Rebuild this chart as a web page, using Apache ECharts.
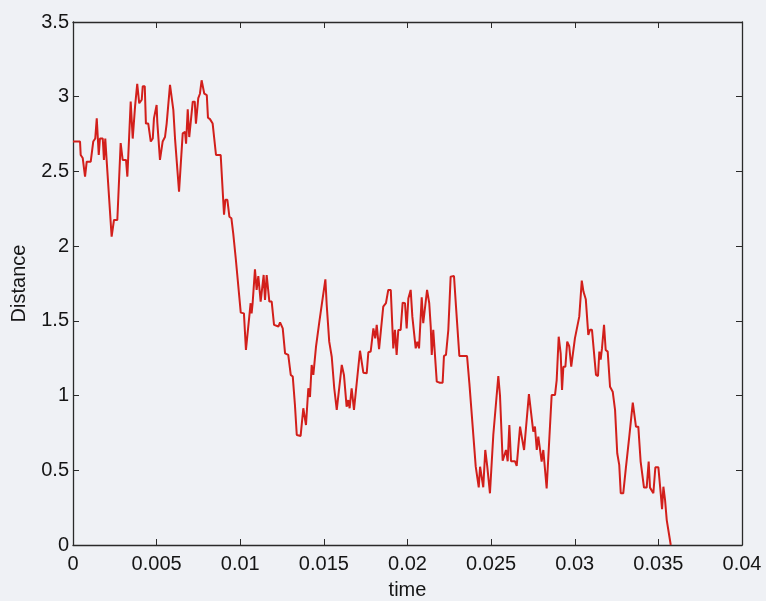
<!DOCTYPE html>
<html>
<head>
<meta charset="utf-8">
<script src="https://cdn.jsdelivr.net/npm/echarts@6/dist/echarts.min.js"></script>
<style>
  html, body { margin: 0; padding: 0; background: #eff1f5; }
  #chart { width: 766px; height: 601px; }
</style>
</head>
<body>
<div id="chart"></div>
<script>
// Sample times (s) of the random walk
const times = [
  0, 0.00042, 0.00046, 0.00058, 0.00072, 0.00082, 0.00106, 0.00121, 0.00133, 0.00142,
  0.00154, 0.00161, 0.00178, 0.00185, 0.00193, 0.00201, 0.00231, 0.00245, 0.00265, 0.00285,
  0.00297, 0.00317, 0.00325, 0.00345, 0.00357, 0.00371, 0.00384, 0.00396, 0.00411, 0.00417,
  0.00429, 0.00436, 0.0045, 0.00465, 0.00477, 0.00484, 0.005, 0.00504, 0.0052, 0.00536,
  0.0055, 0.0056, 0.0058, 0.00588, 0.006, 0.0061, 0.00634, 0.00656, 0.0067, 0.00676,
  0.00686, 0.00695, 0.00706, 0.00716, 0.00728, 0.00735, 0.00749, 0.00759, 0.00769, 0.00779,
  0.00785, 0.008, 0.00807, 0.00819, 0.00835, 0.00855, 0.00883, 0.00903, 0.00911, 0.00923,
  0.00935, 0.00947, 0.00958, 0.00973, 0.00979, 0.01003, 0.01022, 0.01034, 0.01045, 0.01062,
  0.01068, 0.01074, 0.01088, 0.01098, 0.01108, 0.01122, 0.01132, 0.0114, 0.01148, 0.01158,
  0.01174, 0.01188, 0.01202, 0.01228, 0.01238, 0.01254, 0.01268, 0.01287, 0.01302, 0.01314,
  0.01327, 0.01338, 0.01361, 0.01377, 0.01393, 0.01407, 0.01417, 0.01427, 0.01437, 0.01453,
  0.01473, 0.01487, 0.01497, 0.01509, 0.01517, 0.01532, 0.01547, 0.01562, 0.01577, 0.01596,
  0.01607, 0.0162, 0.01628, 0.01636, 0.01646, 0.01654, 0.01666, 0.0168, 0.0169, 0.01716,
  0.01726, 0.01736, 0.01756, 0.01766, 0.0178, 0.01796, 0.01807, 0.01816, 0.0183, 0.0184,
  0.01855, 0.01871, 0.01885, 0.019, 0.01915, 0.01925, 0.01935, 0.01945, 0.01959, 0.01971,
  0.01985, 0.01995, 0.02005, 0.02019, 0.02029, 0.02039, 0.02049, 0.02059, 0.02069, 0.02085,
  0.02094, 0.02105, 0.02117, 0.0213, 0.02139, 0.02145, 0.02154, 0.02175, 0.02194, 0.0221,
  0.02218, 0.0223, 0.02244, 0.02258, 0.02278, 0.0229, 0.0231, 0.02356, 0.0237, 0.02408,
  0.02418, 0.02426, 0.02434, 0.02445, 0.02453, 0.02465, 0.02477, 0.02493, 0.02513, 0.02523,
  0.02543, 0.02553, 0.02569, 0.02579, 0.02589, 0.02599, 0.02609, 0.02619, 0.02643, 0.02653,
  0.02673, 0.02683, 0.02697, 0.02707, 0.02726, 0.02737, 0.02752, 0.02762, 0.02773, 0.02782,
  0.02792, 0.02802, 0.02812, 0.02822, 0.02832, 0.02862, 0.02882, 0.02892, 0.02904, 0.02916,
  0.02924, 0.02932, 0.02944, 0.02955, 0.02967, 0.02979, 0.0299, 0.03001, 0.03012, 0.03027,
  0.03042, 0.03052, 0.03066, 0.03081, 0.03091, 0.03103, 0.03127, 0.03139, 0.03147, 0.03155,
  0.03163, 0.03175, 0.03185, 0.03197, 0.03211, 0.03227, 0.03241, 0.03254, 0.03266, 0.03275,
  0.0329, 0.03306, 0.03317, 0.03326, 0.03336, 0.03347, 0.03356, 0.03366, 0.0338, 0.03394,
  0.03402, 0.03414, 0.0343, 0.03442, 0.0345, 0.0346, 0.0347, 0.03482, 0.035, 0.03514,
  0.03522, 0.0353, 0.0354, 0.0355, 0.03559, 0.03574
];

// Distance at each sample time
const distance = [
  2.70, 2.70, 2.61, 2.59, 2.465, 2.565, 2.565, 2.70, 2.72, 2.855,
  2.61, 2.72, 2.72, 2.577, 2.72, 2.577, 2.063, 2.175, 2.175, 2.69,
  2.577, 2.577, 2.465, 2.967, 2.72, 2.934, 3.086, 2.956, 2.98, 3.07,
  3.07, 2.82, 2.82, 2.70, 2.72, 2.855, 2.945, 2.83, 2.577, 2.70,
  2.73, 2.82, 3.08, 3.07, 2.91, 2.72, 2.365, 2.755, 2.765, 2.685,
  2.916, 2.73, 2.72, 2.967, 2.967, 2.82, 2.99, 3.02, 3.11, 3.11,
  3.02, 3.01, 2.86, 2.85, 2.82, 2.61, 2.61, 2.21, 2.31, 2.31,
  2.197, 2.187, 2.086, 1.919, 1.912, 1.555, 1.55, 1.305, 1.305, 1.618,
  1.55, 1.618, 1.845, 1.707, 1.80, 1.629, 1.629, 1.807, 1.64, 1.807,
  1.629, 1.629, 1.473, 1.462, 1.49, 1.45, 1.283, 1.272, 1.138, 1.127,
  0.937, 0.736, 0.73, 0.915, 0.803, 1.049, 0.99, 1.205, 1.138, 1.327,
  1.495, 1.606, 1.616, 1.778, 1.606, 1.361, 1.26, 1.049, 0.904, 1.093,
  1.205, 1.138, 1.138, 0.926, 0.97, 0.915, 1.049, 0.904, 0.904, 1.30,
  1.30, 1.153, 1.149, 1.29, 1.295, 1.45, 1.383, 1.473, 1.31, 1.31,
  1.595, 1.618, 1.707, 1.707, 1.316, 1.44, 1.272, 1.439, 1.439, 1.622,
  1.618, 1.45, 1.65, 1.707, 1.528, 1.528, 1.316, 1.36, 1.316, 1.658,
  1.484, 1.484, 1.707, 1.618, 1.46, 1.272, 1.44, 1.093, 1.086, 1.086,
  1.265, 1.272, 1.439, 1.796, 1.80, 1.595, 1.265, 1.265, 1.082, 0.524,
  0.524, 0.386, 0.524, 0.524, 0.386, 0.636, 0.524, 0.346, 0.736, 0.736,
  1.131, 1.0, 0.564, 0.564, 0.636, 0.56, 0.803, 0.56, 0.56, 0.529,
  0.792, 0.725, 0.636, 0.636, 1.01, 1.01, 0.758, 0.792, 0.636, 0.725,
  0.725, 0.558, 0.636, 0.636, 0.379, 1.004, 1.004, 1.104, 1.394, 1.28,
  1.037, 1.193, 1.193, 1.361, 1.33, 1.193, 1.193, 1.383, 1.39, 1.528,
  1.769, 1.696, 1.645, 1.406, 1.44, 1.44, 1.138, 1.131, 1.294, 1.24,
  1.317, 1.473, 1.305, 1.294, 1.059, 1.026, 0.904, 0.614, 0.536, 0.346,
  0.346, 0.52, 0.52, 0.725, 0.725, 0.953, 0.953, 0.792, 0.792, 0.558,
  0.558, 0.384, 0.384, 0.558, 0.384, 0.38, 0.346, 0.52, 0.52, 0.346,
  0.239, 0.39, 0.301, 0.167, 0.16, 0
];

const xTicks = [0, 0.005, 0.01, 0.015, 0.02, 0.025, 0.03, 0.035, 0.04];
const yTicks = [0, 0.5, 1, 1.5, 2, 2.5, 3, 3.5];

const FONT = '"Liberation Sans", Arial, sans-serif';
const AXIS_COLOR = '#2a2a2a';
const TEXT_COLOR = '#151515';

const points = times.map((t, i) => [t, distance[i]]);

const chart = echarts.init(document.getElementById('chart'), null, { renderer: 'canvas' });

const baseTick = { show: true, inside: true, length: 6, lineStyle: { color: AXIS_COLOR, width: 1 } };

chart.setOption({
  backgroundColor: '#eff1f5',
  animation: false,
  grid: {
    left: 73, right: 24, top: 22, bottom: 56,
    containLabel: false,
    outerBoundsMode: 'none'
  },
  xAxis: [
    {
      type: 'value',
      min: xTicks[0],
      max: xTicks[xTicks.length - 1],
      interval: xTicks[1] - xTicks[0],
      name: 'time',
      nameLocation: 'middle',
      nameGap: 35,
      nameTextStyle: { fontFamily: FONT, fontSize: 20, color: TEXT_COLOR },
      axisLine: { show: true, onZero: false, lineStyle: { color: AXIS_COLOR, width: 1.3 } },
      axisTick: baseTick,
      splitLine: { show: false },
      axisLabel: {
        fontFamily: FONT, fontSize: 20, color: TEXT_COLOR, margin: 9,
        formatter: v => String(+v.toFixed(3))
      }
    },
    {
      type: 'value',
      position: 'top',
      min: xTicks[0],
      max: xTicks[xTicks.length - 1],
      interval: xTicks[1] - xTicks[0],
      axisLine: { show: true, onZero: false, lineStyle: { color: AXIS_COLOR, width: 1.3 } },
      axisTick: baseTick,
      axisLabel: { show: false },
      splitLine: { show: false }
    }
  ],
  yAxis: [
    {
      type: 'value',
      min: yTicks[0],
      max: yTicks[yTicks.length - 1],
      interval: yTicks[1] - yTicks[0],
      name: 'Distance',
      nameLocation: 'middle',
      nameGap: 44,
      nameRotate: 90,
      nameTextStyle: { fontFamily: FONT, fontSize: 20, color: TEXT_COLOR },
      axisLine: { show: true, onZero: false, lineStyle: { color: AXIS_COLOR, width: 1.3 } },
      axisTick: baseTick,
      splitLine: { show: false },
      axisLabel: { fontFamily: FONT, fontSize: 20, color: TEXT_COLOR, margin: 4 }
    },
    {
      type: 'value',
      position: 'right',
      min: yTicks[0],
      max: yTicks[yTicks.length - 1],
      interval: yTicks[1] - yTicks[0],
      axisLine: { show: true, onZero: false, lineStyle: { color: AXIS_COLOR, width: 1.3 } },
      axisTick: baseTick,
      axisLabel: { show: false },
      splitLine: { show: false }
    }
  ],
  series: [
    {
      type: 'line',
      data: points,
      xAxisIndex: 0,
      yAxisIndex: 0,
      showSymbol: false,
      symbol: 'none',
      lineStyle: { color: '#d21f1b', width: 2 },
      clip: true
    }
  ]
});
</script>
</body>
</html>
